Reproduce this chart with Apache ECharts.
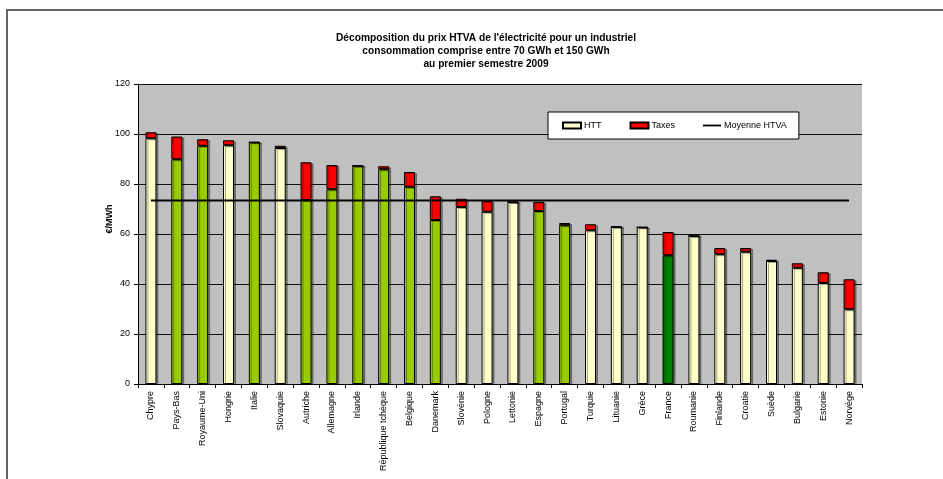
<!DOCTYPE html>
<html>
<head>
<meta charset="utf-8">
<script src="https://cdn.jsdelivr.net/npm/echarts@6/dist/echarts.min.js"></script>
<style>
  html, body { margin: 0; padding: 0; background: #fff; }
  #chart { width: 943px; height: 479px; }
</style>
</head>
<body>
<div id="chart"></div>
<script>
// Pays classés par prix HTVA décroissant
const countries = [
  'Chypre', 'Pays-Bas', 'Royaume-Uni', 'Hongrie', 'Italie', 'Slovaquie',
  'Autriche', 'Allemagne', 'Irlande', 'République tchèque', 'Belgique',
  'Danemark', 'Slovénie', 'Pologne', 'Lettonie', 'Espagne', 'Portugal',
  'Turquie', 'Lituanie', 'Grèce', 'France', 'Roumanie', 'Finlande',
  'Croatie', 'Suède', 'Bulgarie', 'Estonie', 'Norvège'
];

// Composante hors taxes (€/MWh)
const htt = [
  98.3, 89.9, 95.3, 95.5, 96.7, 94.4,
  73.6, 77.9, 87.3, 85.9, 78.9,
  65.6, 70.8, 68.9, 72.8, 69.2, 63.5,
  61.5, 62.9, 62.7, 51.5, 59.3, 51.9,
  52.9, 49.2, 46.5, 40.4, 29.9
];

// Taxes (€/MWh)
const taxes = [
  2.4, 9.1, 2.6, 2.0, 0, 0.9,
  15.1, 9.7, 0, 1.2, 5.9,
  9.5, 3.3, 4.3, 0, 3.7, 0.9,
  2.4, 0, 0, 9.3, 0, 2.5,
  1.5, 0.5, 1.8, 4.3, 12.0
];

// Moyenne du prix HTVA (€/MWh)
const meanHTVA = 73.4;

// Groupe de chaque pays (sert au choix de la couleur de la barre HTT)
const httGroup = [
  'a', 'b', 'b', 'a', 'b', 'a',
  'b', 'b', 'b', 'b', 'b',
  'b', 'a', 'a', 'a', 'b', 'b',
  'a', 'a', 'a', 'c', 'a', 'a',
  'a', 'a', 'a', 'a', 'a'
];
const groupColor = { a: '#FFFFCC', b: '#99CC00', c: '#008000' };

const FONT = '"Liberation Sans", Arial, sans-serif';

const chart = echarts.init(document.getElementById('chart'), null, { renderer: 'canvas' });

const barShadow = {
  shadowColor: 'rgba(0,0,0,0.35)',
  shadowOffsetX: 2,
  shadowOffsetY: 1,
  shadowBlur: 0
};

chart.setOption({
  animation: false,
  backgroundColor: '#fff',
  textStyle: { fontFamily: FONT },
  title: {
    text: "Décomposition du prix HTVA de l'électricité pour un industriel\nconsommation comprise entre 70 GWh et 150 GWh\nau premier semestre 2009",
    left: 481,
    top: 27,
    textAlign: 'center',
    textStyle: {
      fontFamily: FONT,
      fontSize: 10.2,
      fontWeight: 'bold',
      color: '#000',
      lineHeight: 13
    }
  },
  legend: {
    left: 548,
    top: 112,
    padding: [9, 12, 9, 14],
    itemGap: 28,
    itemWidth: 18,
    itemHeight: 6,
    symbolKeepAspect: true,
    backgroundColor: '#fff',
    borderColor: '#000',
    borderWidth: 1,
    borderRadius: 0,
    textStyle: { fontFamily: FONT, fontSize: 9, color: '#000', padding: [0, 0, 0, -2] },
    data: [
      { name: 'HTT', icon: 'rect' },
      { name: 'Taxes', icon: 'rect' },
      { name: 'Moyenne HTVA', icon: 'path://M0,0 L10,0 L10,1 L0,1 Z' }
    ]
  },
  grid: {
    left: 138,
    right: 81,
    top: 84,
    bottom: 95,
    show: true,
    backgroundColor: '#C0C0C0',
    borderWidth: 0
  },
  xAxis: {
    type: 'category',
    data: countries,
    boundaryGap: true,
    axisLine: { lineStyle: { color: '#000', width: 1 } },
    axisTick: { show: true, length: 4, lineStyle: { color: '#000' } },
    axisLabel: {
      rotate: 90,
      interval: 0,
      margin: 7,
      fontFamily: FONT,
      fontSize: 9,
      color: '#000'
    }
  },
  yAxis: {
    type: 'value',
    min: 0,
    max: 120,
    interval: 20,
    axisLine: { show: true, lineStyle: { color: '#000', width: 1 } },
    axisTick: { show: true, length: 4, lineStyle: { color: '#000' } },
    axisLabel: { margin: 8, fontFamily: FONT, fontSize: 9, color: '#000' },
    splitLine: { show: true, lineStyle: { color: '#111', width: 1 } }
  },
  graphic: [
    {
      type: 'rect',
      silent: true,
      z: 100,
      shape: { x: 7, y: 10, width: 1000, height: 1000 },
      style: { fill: 'none', stroke: '#333', lineWidth: 1.5 }
    },
    {
      type: 'text',
      silent: true,
      x: 110,
      y: 219,
      rotation: Math.PI / 2,
      style: {
        text: '€/MWh',
        fontFamily: FONT,
        fontSize: 9,
        fontWeight: 'bold',
        fill: '#000',
        align: 'center',
        verticalAlign: 'middle'
      }
    }
  ],
  series: [
    {
      name: 'HTT',
      type: 'bar',
      stack: 'prix',
      barWidth: 11,
      itemStyle: Object.assign({ color: '#FFFFCC', borderColor: '#000', borderWidth: 1 }, barShadow),
      data: htt.map((v, i) => ({ value: v, itemStyle: { color: groupColor[httGroup[i]] } }))
    },
    {
      name: 'Taxes',
      type: 'bar',
      stack: 'prix',
      barWidth: 11,
      itemStyle: Object.assign({ color: '#FF0000', borderColor: '#000', borderWidth: 1 }, barShadow),
      data: taxes
    },
    {
      name: 'Moyenne HTVA',
      type: 'line',
      symbol: 'none',
      z: 5,
      lineStyle: { color: '#000', width: 2 },
      itemStyle: { color: '#000' },
      data: countries.map(() => meanHTVA)
    }
  ]
});
</script>
</body>
</html>
